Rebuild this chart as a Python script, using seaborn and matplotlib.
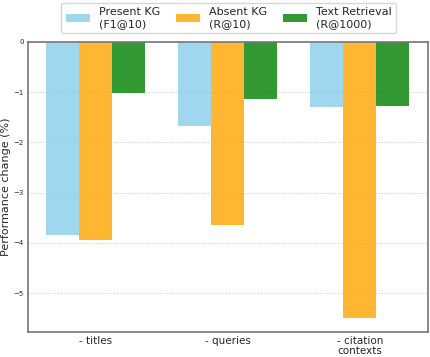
import matplotlib
matplotlib.use("Agg")
import matplotlib.pyplot as plt
import pandas as pd
import seaborn as sns

# ablation categories and performance deltas (%)
categories = ["- titles", "- queries", "- citation\ncontexts"]
series = ["Present KG\n(F1@10)", "Absent KG\n(R@10)", "Text Retrieval\n(R@1000)"]
present_kg = [-3.85, -1.67, -1.30]
absent_kg = [-3.94, -3.65, -5.49]
text_retrieval = [-1.02, -1.14, -1.27]
colors = ["skyblue", "orange", "green"]

rows = []
for name, vals in zip(series, [present_kg, absent_kg, text_retrieval]):
    for cat, v in zip(categories, vals):
        rows.append({"category": cat, "series": name, "value": v})
df = pd.DataFrame(rows)

sns.set_style("white")
fig = plt.figure(figsize=(4.3, 3.57), dpi=100)
ax = fig.add_axes([0.065, 0.07, 0.93, 0.813])

sns.barplot(data=df, x="category", y="value", hue="series", palette=colors,
            alpha=0.8, width=0.75, saturation=1, linewidth=0, ax=ax, legend=True)

ax.set_ylim(-5.77, 0)
ax.set_xlim(-0.515, 2.515)
ax.set_xlabel("")
ax.set_ylabel("Performance change (%)", fontsize=8, labelpad=2)
ax.tick_params(axis="y", labelsize=5, length=2, pad=1)
ax.tick_params(axis="x", labelsize=7.5, length=2, pad=1)
for lbl in ax.get_xticklabels():
    lbl.set_linespacing(0.95)
ax.yaxis.grid(True, linestyle=":", color="#cccccc", linewidth=0.8)
ax.set_axisbelow(True)
for side in ["left", "bottom", "right", "top"]:
    ax.spines[side].set_color("#777777")
    ax.spines[side].set_linewidth(1.2)

handles, labels = ax.get_legend_handles_labels()
ax.get_legend().remove()
fig.legend(handles, labels, loc="upper center", bbox_to_anchor=(0.532, 0.997),
           ncol=3, fontsize=8, frameon=True, handlelength=2.2,
           columnspacing=1.4, borderpad=0.4, borderaxespad=0.15)

fig.savefig("out.png", dpi=100)
